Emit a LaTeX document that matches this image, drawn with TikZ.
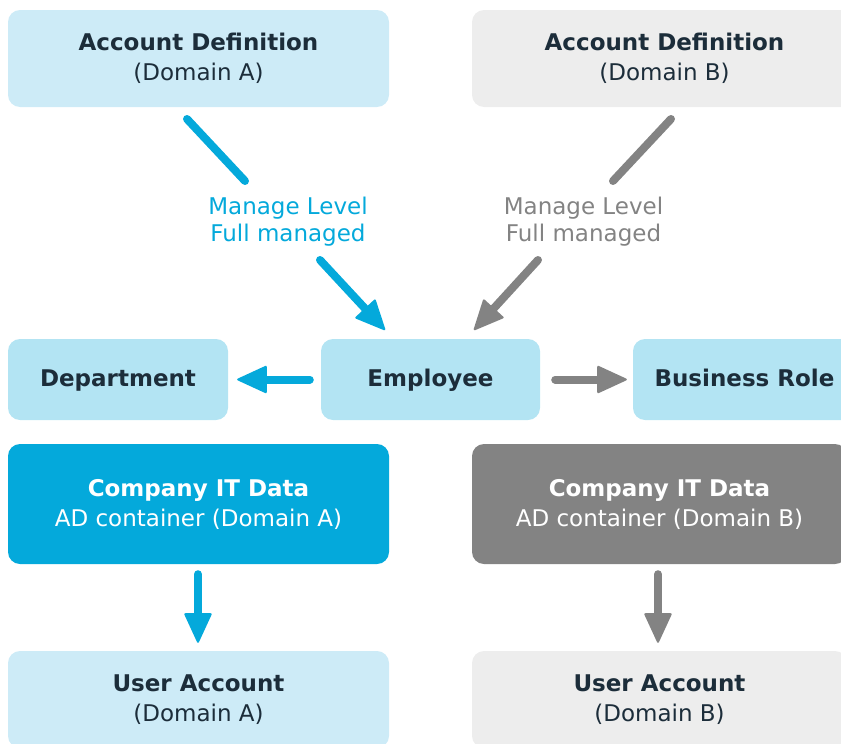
\documentclass[tikz,border=0pt]{standalone}
\usepackage{fontspec}
\setmainfont{DejaVu Sans}
\usetikzlibrary{arrows.meta}
\definecolor{lightA}{HTML}{CDEBF7}
\definecolor{midA}{HTML}{B3E4F3}
\definecolor{lightB}{HTML}{EDEDED}
\definecolor{blueA}{HTML}{04A9DB}
\definecolor{grayB}{HTML}{838383}
\definecolor{darktext}{HTML}{1C2D3A}
\begin{document}
\begin{tikzpicture}[x=1pt,y=-1pt,
  box/.style={rectangle, rounded corners=12pt, inner sep=0pt, align=center, text=darktext, font=\fontsize{23}{30}\selectfont},
  midbox/.style={box, fill=midA, minimum height=81pt, text height=16pt, text depth=3pt},
  lbl/.style={align=center, inner sep=0pt, font=\fontsize{23}{27}\selectfont},
  conn/.style={line width=8pt, line cap=round},
  arr/.style={conn, -{Triangle[length=31pt,width=28pt,line width=2pt,round]}}
]
\useasboundingbox (0,0) rectangle (841,744);

% top boxes
\node[box, fill=lightA, minimum width=381pt, minimum height=97pt] (accA) at (198.5,58.5) {\textbf{Account Definition}\\(Domain A)};
\node[box, fill=lightB, minimum width=385pt, minimum height=97pt] (accB) at (664.5,58.5) {\textbf{Account Definition}\\(Domain B)};

% middle row
\node[midbox, minimum width=220pt] (dep) at (118,379.5) {\textbf{Department}};
\node[midbox, minimum width=219pt] (emp) at (430.5,379.5) {\textbf{Employee}};
\node[midbox, minimum width=223pt] (biz) at (744.5,379.5) {\textbf{Business Role}};

% company IT data
\node[box, fill=blueA, text=white, minimum width=381pt, minimum height=120pt] (compA) at (198.5,504) {\textbf{Company IT Data}\\AD container (Domain A)};
\node[box, fill=grayB, text=white, minimum width=375pt, minimum height=120pt] (compB) at (659.5,504) {\textbf{Company IT Data}\\AD container (Domain B)};

% user accounts
\node[box, fill=lightA, minimum width=381pt, minimum height=97pt] (userA) at (198.5,699.5) {\textbf{User Account}\\(Domain A)};
\node[box, fill=lightB, minimum width=375pt, minimum height=97pt] (userB) at (659.5,699.5) {\textbf{User Account}\\(Domain B)};

% labels
\node[lbl, text=blueA] (lblA) at (288,221.5) {Manage Level\\Full managed};
\node[lbl, text=grayB] (lblB) at (583.5,221.5) {Manage Level\\Full managed};

% diagonal connector coordinates
\coordinate (a1) at (187,119);
\coordinate (a2) at (245,181);
\coordinate (a3) at (320,260);
\coordinate (ta) at (385,330);
\coordinate (b1) at (671,119);
\coordinate (b2) at (613,181);
\coordinate (b3) at (538,260);
\coordinate (tb) at (474,330);

\draw[conn, blueA] (a1) -- (a2);
\draw[arr, blueA] (a3) -- (ta);
\draw[conn, grayB] (b1) -- (b2);
\draw[arr, grayB] (b3) -- (tb);

% horizontal
\draw[arr, blueA, shorten <=11pt, shorten >=9pt] (emp.west) -- (dep.east);
\draw[arr, grayB, shorten <=15pt, shorten >=6pt] (emp.east) -- (biz.west);

% vertical
\draw[arr, blueA, shorten <=10pt, shorten >=8pt] (compA.south -| 198,0) -- (userA.north -| 198,0);
\draw[arr, grayB, shorten <=10pt, shorten >=8pt] (compB.south -| 658,0) -- (userB.north -| 658,0);
\end{tikzpicture}
\end{document}
